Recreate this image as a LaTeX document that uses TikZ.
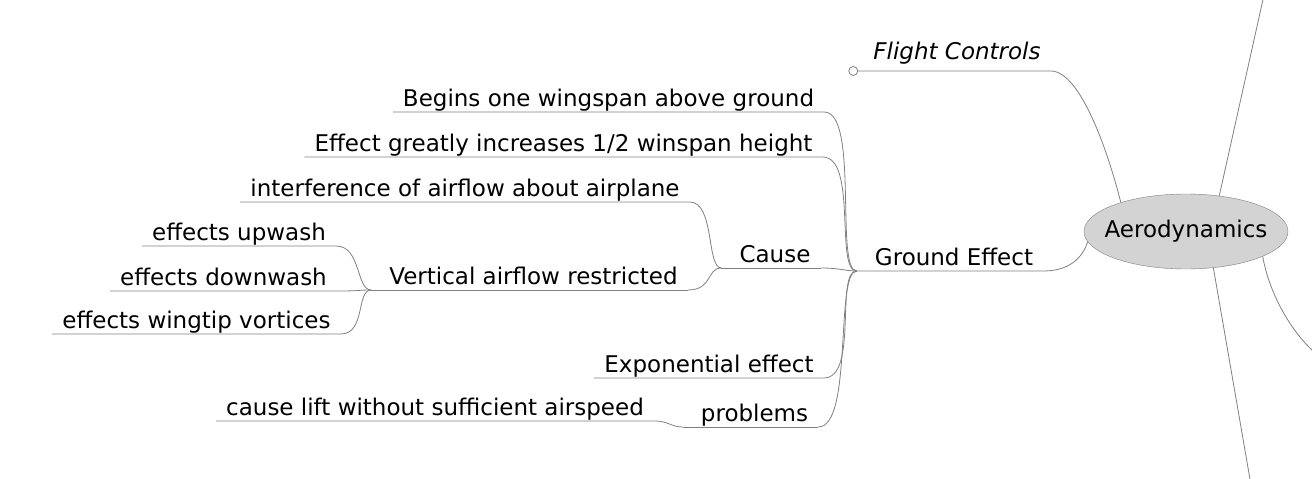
\documentclass[tikz,border=0pt]{standalone}
\usepackage{fontspec}
\setmainfont{DejaVu Sans}
\usetikzlibrary{shapes.geometric}
\definecolor{rootgray}{RGB}{211,211,211}
\definecolor{edgegray}{RGB}{128,128,128}
\newcommand\mmfont{\fontsize{23}{27}\selectfont}
\tikzset{
  topic/.style={font=\mmfont, inner xsep=10pt, inner ysep=0pt, text height=17pt, text depth=5pt, anchor=south},
  root/.style={ellipse, draw=edgegray, fill=rootgray, inner sep=0pt, minimum width=204pt, minimum height=75pt, font=\mmfont},
  branch/.style={draw=edgegray, line width=0.8pt},
  fold/.style={circle, draw=edgegray, fill=white, inner sep=0pt, minimum size=9pt, line width=0.8pt}
}

\begin{document}
\begin{tikzpicture}[x=1pt, y=-1pt]
	\useasboundingbox (0,0) rectangle (1312,479);
	\clip (0,0) rectangle (1312,479);
	% root and its branches that leave the picture
	\node[root] (aero) at (1186,231.5) {\makebox[0pt]{Aerodynamics}};
	\coordinate (out-top) at (1264,-5);
	\coordinate (out-bot) at (1251,485);
	\coordinate (out-right) at (1325,360);
	\draw[branch] (aero.47) -- (out-top);
	\draw[branch] (aero.307) -- (out-bot);
	\draw[branch] (aero.342) .. controls +(8,45) and +(-25,-15) .. (out-right);
	% flight controls (folded)
	\node[topic, font=\mmfont\itshape, text depth=11pt] (fc) at (957,71) {Flight Controls};
	\node[fold] (fc-fold) at ([xshift=-10pt]fc.south west) {};
	\draw[branch] (fc-fold.east) -- (fc.south east) .. controls +(30,0) and +(-12,-48) .. (aero.156);
	% ground effect
	\node[topic] (ge) at (954,271) {Ground Effect};
	\coordinate (ge-j) at ([xshift=-8pt]ge.south west);
	\draw[branch] (ge-j) -- (ge.south east) .. controls +(30,0) and +(-4,12) .. (aero.186);
	\node[topic] (begins) at (608.5,112) {Begins one wingspan above ground};
	\node[topic] (increase) at (563.5,157) {Effect greatly increases 1/2 winspan height};
	\node[topic] (cause) at (775,268) {Cause};
	\node[topic] (expo) at (709,378) {Exponential effect};
	\node[topic] (prob) at (754.5,427) {problems};
	\draw[branch] (begins.south west) -- (begins.south east) .. controls +(35,0) and +(-22,0) .. (ge-j);
	\draw[branch] (increase.south west) -- (increase.south east) .. controls +(35,0) and +(-22,0) .. (ge-j);
	\draw[branch] (cause.south east) .. controls +(20,0) and +(-12,0) .. (ge-j);
	\draw[branch] (expo.south west) -- (expo.south east) .. controls +(35,0) and +(-22,0) .. (ge-j);
	\draw[branch] (prob.south east) .. controls +(35,0) and +(-22,0) .. (ge-j);
	% cause
	\coordinate (cause-j) at ([xshift=-8pt]cause.south west);
	\draw[branch] (cause-j) -- (cause.south east);
	\node[topic] (interf) at (465,202) {interference of airflow about airplane};
	\node[topic] (vert) at (533.5,290) {Vertical airflow restricted};
	\draw[branch] (interf.south west) -- (interf.south east) .. controls +(25,0) and +(-15,0) .. (cause-j);
	\draw[branch] (vert.south east) .. controls +(25,0) and +(-15,0) .. (cause-j);
	% vertical airflow restricted
	\coordinate (vert-j) at ([xshift=-8pt]vert.south west);
	\draw[branch] (vert-j) -- (vert.south east);
	\node[topic] (upwash) at (239,246) {effects upwash};
	\node[topic] (downwash) at (223.5,291) {effects downwash};
	\node[topic] (vortex) at (196.5,334) {effects wingtip vortices};
	\draw[branch] (upwash.south west) -- (upwash.south east) .. controls +(25,0) and +(-15,0) .. (vert-j);
	\draw[branch] (downwash.south west) -- (downwash.south east) .. controls +(25,0) and +(-15,0) .. (vert-j);
	\draw[branch] (vortex.south west) -- (vortex.south east) .. controls +(25,0) and +(-15,0) .. (vert-j);
	% problems
	\coordinate (prob-j) at ([xshift=-8pt]prob.south west);
	\draw[branch] (prob-j) -- (prob.south east);
	\node[topic] (nolift) at (435,421) {cause lift without sufficient airspeed};
	\draw[branch] (nolift.south west) -- (nolift.south east) .. controls +(15,0) and +(-12,0) .. (prob-j);
\end{tikzpicture}
\end{document}
